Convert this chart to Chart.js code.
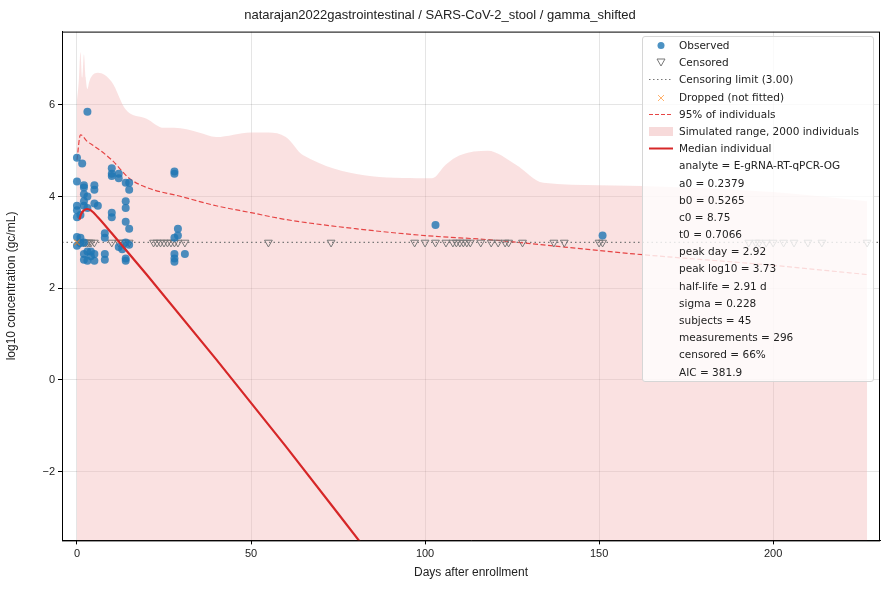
<!DOCTYPE html>
<html>
<head>
<meta charset="utf-8">
<script src="https://cdn.jsdelivr.net/npm/chart.js@4/dist/chart.umd.min.js"></script>
<style>
  body { margin: 0; background: #fff; font-family: "DejaVu Sans", sans-serif; }
  #wrap { position: relative; width: 890px; height: 590px; }
  #legend { position: absolute; left: 642px; top: 36px; width: 232px; height: 346px;
    background: rgba(255,255,255,0.8); border: 1px solid #d6d6d6; border-radius: 3px;
    font-size: 10.5px; color: #222; box-sizing: border-box; padding-top: 0px; }
  #legend div { height: 17.2px; line-height: 17.2px; position: relative; padding-left: 36px; }
  #legend .k { position: absolute; left: 6px; top: 0; width: 24px; height: 17px; }
</style>
</head>
<body>
<div id="wrap">
  <canvas id="chart" width="890" height="590"></canvas>
  <div id="legend"></div>
</div>
<script>
// observed measurements (day, log10)
const obsX = [0,0,0,0,0,0,0,1,1,1,1.5,2,2,2,2,2,2,2,2,3,3,3,3,3,4,4,5,5,5,5,5,6,8,8,8,8,10,10,10,10,10,12,12,12,13,14,14,14,14,14,14,14,15,15,15,15,28,28,29,29,28,28,28,28,31,103,151];
const obsY = [4.85,4.33,3.8,3.7,3.55,3.12,2.93,3.6,3.1,2.98,4.72,4.25,4.2,4.05,3.9,3.8,3.0,2.75,2.62,5.85,4.0,3.75,2.8,2.6,2.7,2.8,4.25,4.15,3.85,2.6,2.75,3.8,3.2,3.1,2.75,2.62,4.62,4.45,4.5,3.65,3.55,4.4,4.5,2.9,2.85,4.3,3.9,3.75,3.45,3.0,2.65,2.6,4.3,4.15,3.3,2.95,4.55,4.5,3.3,3.15,3.1,2.75,2.65,2.58,2.75,3.38,3.15];
// censored days (at limit)
const censX = [1,2,2.5,3,3.5,4,5,10,12,13,14,15,22,23,24,25,26,27,28,29,31,55,73,97,100,103,106,108,109,110,111,112,113,116,119,121,123,124,128,137,140,150,151,193,195,196,198,200,203,206,210,214,227];
const censLimit = 3.0;
const dropped = [{x: 0, y: 3.0}];
// simulated range upper edge
const bandX = [0,0.5,1,1.5,2,2.5,3,3.5,4,6,10,14,20,25,28,35,40,50,55,60,65,100,102,106,110,118,126,134,150,200,227];
const bandY = [6.1,6.5,7.15,6.6,7.1,6.6,6.35,6.5,6.6,6.7,6.5,5.9,5.7,5.5,5.5,5.4,5.3,5.4,5.4,5.3,4.9,4.4,4.4,4.7,4.9,5.0,4.7,4.3,4.25,4.1,3.9];
// 95% of individuals
const p95X = [0,1,3,5,10,15,20,30,40,50,60,80,100,120,140,160,200,227];
const p95Y = [4.8,5.35,5.2,5.1,4.8,4.4,4.2,4.0,3.8,3.65,3.5,3.3,3.15,3.05,2.9,2.75,2.5,2.3];
// median individual
const medX = [0.7,1.2,2,2.92,4,6,10,20,40,60,82];
const medY = [3.5,3.62,3.7,3.73,3.7,3.55,3.2,2.3,0.45,-1.45,-3.6];

const zip = (xs, ys) => xs.map((x, i) => ({x: x, y: ys[i]}));

const legendRows = [
  ['<svg class="k"><circle cx="12" cy="8.5" r="3.5" fill="#1f77b4" fill-opacity="0.8"/></svg>', 'Observed'],
  ['<svg class="k"><path d="M8 5 L16 5 L12 12 Z" fill="none" stroke="#777"/></svg>', 'Censored'],
  ['<svg class="k"><line x1="0" y1="8.5" x2="24" y2="8.5" stroke="#777" stroke-dasharray="1.5,2.5"/></svg>', 'Censoring limit (3.00)'],
  ['<svg class="k"><path d="M9 6 L15 12 M15 6 L9 12" stroke="#ff7f0e" stroke-opacity="0.6"/></svg>', 'Dropped (not fitted)'],
  ['<svg class="k"><line x1="0" y1="8.5" x2="24" y2="8.5" stroke="#e64545" stroke-dasharray="4,2"/></svg>', '95% of individuals'],
  ['<svg class="k"><rect x="0" y="4" width="24" height="9" fill="#f7dada"/></svg>', 'Simulated range, 2000 individuals'],
  ['<svg class="k"><line x1="0" y1="8.5" x2="24" y2="8.5" stroke="#d62728" stroke-width="2"/></svg>', 'Median individual'],
  ['', 'analyte = E-gRNA-RT-qPCR-OG'], ['', 'a0 = 0.2379'], ['', 'b0 = 0.5265'], ['', 'c0 = 8.75'],
  ['', 't0 = 0.7066'], ['', 'peak day = 2.92'], ['', 'peak log10 = 3.73'], ['', 'half-life = 2.91 d'],
  ['', 'sigma = 0.228'], ['', 'subjects = 45'], ['', 'measurements = 296'], ['', 'censored = 66%'], ['', 'AIC = 381.9']
];
document.querySelector('#legend').innerHTML = legendRows.map(r => '<div>' + r[0] + r[1] + '</div>').join('');

// full box around the plot area, like matplotlib
const frame = {
  id: 'frame',
  afterDraw(c) {
    const a = c.chartArea, g = c.ctx;
    g.save();
    g.strokeStyle = '#000';
    g.lineWidth = 1;
    g.strokeRect(a.left + 0.5, a.top + 0.5, a.right - a.left - 1, a.bottom - a.top);
    g.restore();
  }
};

const ctx = document.querySelector('#chart').getContext('2d');
new Chart(ctx, {
  type: 'scatter',
  data: {
    datasets: [
      { type: 'line', data: zip(bandX, bandY), borderWidth: 0, pointRadius: 0, cubicInterpolationMode: 'monotone',
        backgroundColor: 'rgba(240,170,170,0.35)', fill: {value: -10}, order: 10 },
      { type: 'line', data: [{x: -4.3, y: censLimit}, {x: 230.7, y: censLimit}], borderColor: '#777',
        borderWidth: 1.2, borderDash: [1.5, 3], pointRadius: 0, order: 9 },
      { type: 'line', data: zip(p95X, p95Y), borderColor: '#e64545', borderWidth: 1.2,
        borderDash: [5, 2.5], pointRadius: 0, cubicInterpolationMode: 'monotone', order: 5 },
      { data: zip(censX, censX.map(() => censLimit)), pointStyle: 'triangle', rotation: 180,
        pointRadius: 4.5, borderColor: '#777', borderWidth: 1, backgroundColor: 'rgba(0,0,0,0)', order: 4 },
      { data: zip(obsX, obsY), pointRadius: 4, borderWidth: 0,
        backgroundColor: 'rgba(31,119,180,0.8)', order: 3 },
      { data: dropped, pointStyle: 'crossRot', pointRadius: 4, borderColor: 'rgba(255,127,14,0.6)', borderWidth: 1.2, order: 2 },
      { type: 'line', data: zip(medX, medY), borderColor: '#d62728', borderWidth: 2.2,
        pointRadius: 0, cubicInterpolationMode: 'monotone', order: 1 }
    ]
  },
  plugins: [frame],
  options: {
    responsive: false,
    animation: false,
    layout: { padding: { left: 0, right: 10, top: 0, bottom: 6 } },
    scales: {
      x: {
        type: 'linear', min: -4.3, max: 230.7,
        afterBuildTicks: a => { a.ticks = [0, 50, 100, 150, 200].map(v => ({value: v})); },
        grid: { color: 'rgba(0,0,0,0.1)', tickColor: '#000', tickLength: 4 },
        border: { color: '#000' },
        ticks: { color: '#222', font: { size: 11 } },
        title: { display: true, text: 'Days after enrollment', color: '#222', font: { size: 12 }, padding: { top: 2 } }
      },
      y: {
        min: -3.5, max: 7.6,
        afterBuildTicks: a => { a.ticks = [-2, 0, 2, 4, 6].map(v => ({value: v})); },
        afterFit: a => { a.width = 62; },
        grid: { color: 'rgba(0,0,0,0.1)', tickColor: '#000', tickLength: 4 },
        border: { color: '#000' },
        ticks: { color: '#222', font: { size: 11 }, callback: v => String(v).replace('-', '\u2212') },
        title: { display: true, text: 'log10 concentration (gc/mL)', color: '#222', font: { size: 12 } }
      }
    },
    plugins: {
      legend: { display: false },
      tooltip: { enabled: false },
      title: { display: true, text: 'natarajan2022gastrointestinal / SARS-CoV-2_stool / gamma_shifted',
        color: '#222', font: { size: 13, weight: 'normal' }, padding: { top: 8, bottom: 8 } }
    }
  }
});
</script>
</body>
</html>
